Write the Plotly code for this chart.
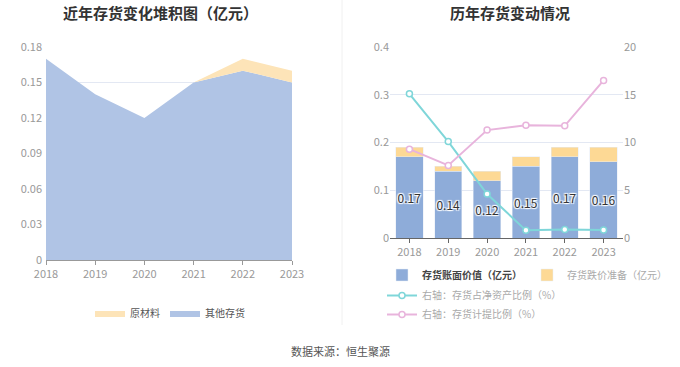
import plotly.graph_objects as go

years = ["2018", "2019", "2020", "2021", "2022", "2023"]
year_nums = [2018, 2019, 2020, 2021, 2022, 2023]

# left chart (stacked area)
other_inventory = [0.17, 0.14, 0.12, 0.15, 0.16, 0.15]
raw_material = [0.0, 0.0, 0.0, 0.0, 0.01, 0.01]

# right chart
book_value = [0.17, 0.14, 0.12, 0.15, 0.17, 0.16]
impairment = [0.02, 0.01, 0.02, 0.02, 0.02, 0.03]
net_asset_ratio = [15.1, 10.1, 4.6, 0.8, 0.9, 0.85]
provision_ratio = [9.3, 7.6, 11.3, 11.8, 11.75, 16.5]

FONT = "Noto Sans CJK SC"
W, H = 680, 367

fig = go.Figure()

fig.add_trace(go.Scatter(
    x=year_nums, y=other_inventory, name="其他存货", stackgroup="one",
    mode="lines", line=dict(width=0, color="#8eacd9"), fillcolor="#b0c4e5",
    xaxis="x", yaxis="y", legend="legend", legendrank=2,
))
fig.add_trace(go.Scatter(
    x=year_nums, y=raw_material, name="原材料", stackgroup="one",
    mode="lines", line=dict(width=0, color="#fdd995"), fillcolor="#fde4b8",
    xaxis="x", yaxis="y", legend="legend", legendrank=1,
))

fig.add_trace(go.Bar(
    x=years, y=book_value, name="<b><span style='color:#444'>存货账面价值（亿元）</span></b>",
    marker=dict(color="#8eacd9"), width=0.7,
    text=[f"{v:.2f}" for v in book_value], textposition="inside", textangle=0,
    insidetextanchor="middle", constraintext="none",
    textfont=dict(color="#333", size=12, family=FONT,
                  shadow="1px 1px 1px #fff, -1px -1px 1px #fff, 1px -1px 1px #fff, -1px 1px 1px #fff"),
    xaxis="x2", yaxis="y2", legend="legend2", legendrank=1,
))
fig.add_trace(go.Bar(
    x=years, y=impairment, name="存货跌价准备（亿元）",
    marker=dict(color="#fdd995"), width=0.7,
    xaxis="x2", yaxis="y2", legend="legend2", legendrank=2,
))
fig.add_trace(go.Scatter(
    x=years, y=net_asset_ratio, name="右轴：存货占净资产比例（%）",
    mode="lines+markers", line=dict(color="#7fd6d9", width=2),
    marker=dict(symbol="circle", size=6, color="#ffffff", line=dict(color="#7fd6d9", width=1.5)),
    xaxis="x2", yaxis="y3", legend="legend3",
))
fig.add_trace(go.Scatter(
    x=years, y=provision_ratio, name="右轴：存货计提比例（%）",
    mode="lines+markers", line=dict(color="#e8b4dc", width=2),
    marker=dict(symbol="circle", size=6, color="#ffffff", line=dict(color="#e8b4dc", width=1.5)),
    xaxis="x2", yaxis="y3", legend="legend3",
))

def px_x(p):
    return p / W

def px_y(p):
    return 1 - p / H

tick_font = dict(family=FONT, size=11, color="#999999")
legend_font = dict(family=FONT, size=10, color="#aaa")

fig.update_layout(
    width=W, height=H,
    margin=dict(l=0, r=0, t=0, b=0, autoexpand=False),
    paper_bgcolor="white", plot_bgcolor="white",
    font=dict(family=FONT, color="#666"),
    barmode="stack",
    showlegend=True,
    xaxis=dict(domain=[px_x(46), px_x(292)], range=[2018, 2023], tickmode="array",
               tickvals=year_nums, ticktext=years, showgrid=False, zeroline=False,
               showline=True, linecolor="#999", ticks="outside", ticklen=4, tickcolor="#999",
               tickfont=tick_font, anchor="y"),
    yaxis=dict(domain=[px_y(260), px_y(47)], range=[0, 0.18], dtick=0.03, tickformat="~g",
               showgrid=True, gridcolor="#e3e8f3", zeroline=False, showline=False,
               tickfont=tick_font, anchor="x", ticklabelstandoff=3),
    xaxis2=dict(domain=[px_x(390), px_x(623)], range=[-0.5, 5.5], type="category",
                showgrid=False, zeroline=False, showline=True, linecolor="#666",
                ticks="outside", ticklen=4, tickcolor="#666", tickfont=tick_font, anchor="y2"),
    yaxis2=dict(domain=[px_y(238), px_y(47)], range=[0, 0.4], dtick=0.1, tickformat="~g",
                showgrid=True, gridcolor="#e3e8f3", zeroline=False, showline=False,
                tickfont=tick_font, anchor="x2"),
    yaxis3=dict(range=[0, 20], dtick=5, overlaying="y2", side="right", anchor="x2",
                showgrid=False, zeroline=False, showline=False, tickfont=tick_font),
    legend=dict(orientation="h", x=px_x(170), xanchor="center", y=px_y(313), yanchor="middle",
                font=dict(family=FONT, size=10, color="#555"), traceorder="normal",
                bgcolor="rgba(0,0,0,0)"),
    legend2=dict(orientation="h", x=px_x(382), xanchor="left", y=px_y(275), yanchor="middle",
                 font=legend_font, bgcolor="rgba(0,0,0,0)", traceorder="normal"),
    legend3=dict(orientation="v", x=px_x(382), xanchor="left", y=px_y(281), yanchor="top",
                 font=legend_font, bgcolor="rgba(0,0,0,0)", tracegroupgap=2),
    annotations=[
        dict(text="<b>近年存货变化堆积图（亿元）</b>", x=px_x(160), y=px_y(12), xref="paper", yref="paper",
             xanchor="center", yanchor="middle",
             showarrow=False, font=dict(family=FONT, size=15, color="#333")),
        dict(text="<b>历年存货变动情况</b>", x=px_x(510), y=px_y(12), xref="paper", yref="paper",
             xanchor="center", yanchor="middle",
             showarrow=False, font=dict(family=FONT, size=15, color="#333")),
        dict(text="数据来源：恒生聚源", x=0.5, y=px_y(351), xref="paper", yref="paper",
             xanchor="center", yanchor="middle",
             showarrow=False, font=dict(family=FONT, size=11, color="#555")),
    ],
    shapes=[
        dict(type="line", xref="paper", yref="paper", x0=px_x(342), x1=px_x(342),
             y0=px_y(0), y1=px_y(325), line=dict(color="#f0f0f0", width=1)),
    ],
)

fig.write_html("out.html", config={"displayModeBar": False},
               post_script="document.body.style.margin='0';")
